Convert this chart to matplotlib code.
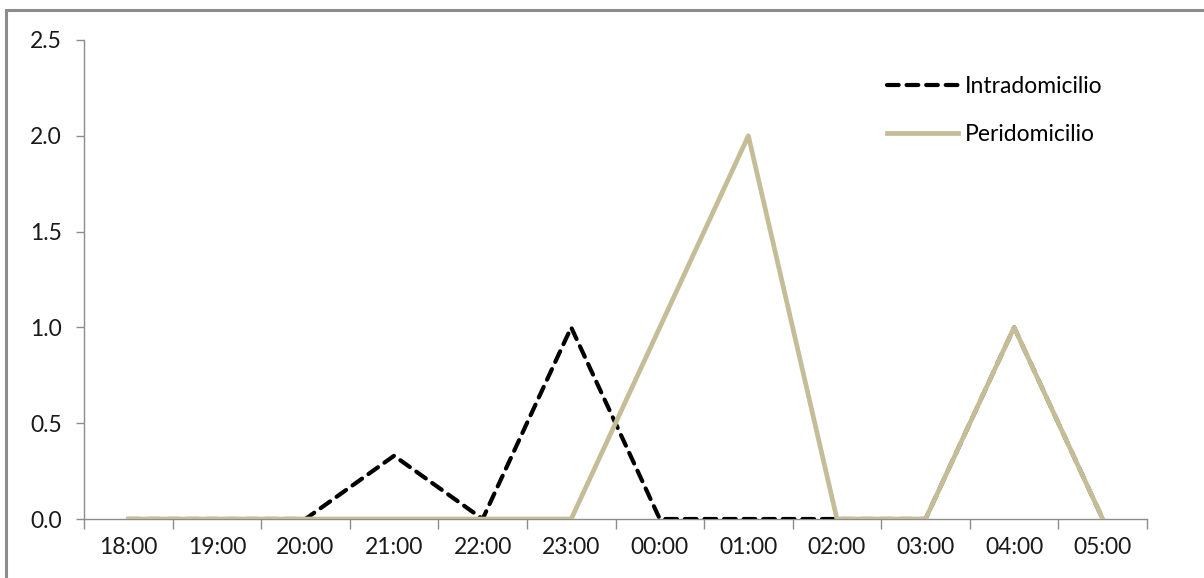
import matplotlib
matplotlib.use("Agg")
import matplotlib.pyplot as plt
from matplotlib.patches import Rectangle
from matplotlib.ticker import FixedLocator, NullFormatter

hours = ['18:00', '19:00', '20:00', '21:00', '22:00', '23:00',
         '00:00', '01:00', '02:00', '03:00', '04:00', '05:00']
intradomicilio = [0, 0, 0, 0.33, 0, 1.0, 0, 0, 0, 0, 1.0, 0]
peridomicilio = [0, 0, 0, 0, 0, 0, 1.0, 2.0, 0, 0, 1.0, 0]
yticks = [0.0, 0.5, 1.0, 1.5, 2.0, 2.5]

plt.rcParams['font.family'] = ['Lato', 'DejaVu Sans']

fig = plt.figure(figsize=(12.04, 5.78), dpi=100)
fig.patches.append(Rectangle((6/1204, -0.1), 1.2, 1 - 10/578 + 0.1,
                             transform=fig.transFigure, fill=False,
                             edgecolor='#8c8c8c', linewidth=2.2, zorder=0))

ax = fig.add_axes([84/1204, 1 - 519/578, (1147 - 84)/1204, (519 - 40)/578])
x = list(range(len(hours)))
ax.plot(x, intradomicilio, color='black', linewidth=3.0, dashes=(2.8, 1.9),
        dash_capstyle='round', label='Intradomicilio', zorder=3)
ax.plot(x, peridomicilio, color='#C4BD97', linewidth=3.4,
        label='Peridomicilio', zorder=4)

ax.set_xlim(-0.5, len(hours) - 0.5)
ax.set_ylim(0, 2.5)
ax.set_xticks(x)
ax.set_xticklabels(hours)
ax.xaxis.set_minor_locator(FixedLocator([i - 0.5 for i in range(len(hours) + 1)]))
ax.xaxis.set_minor_formatter(NullFormatter())
ax.tick_params(axis='x', which='major', length=0, pad=13, labelsize=16.5, labelcolor='#1a1a1a')
ax.tick_params(axis='x', which='minor', length=7, width=1, color='#8c8c8c', direction='out')
ax.set_yticks(yticks)
ax.set_yticklabels([f'{v:.1f}' for v in yticks])
ax.tick_params(axis='y', length=6, width=1, color='#8c8c8c', direction='out', pad=10,
               labelsize=16.5, labelcolor='#1a1a1a')
for s in ['top', 'right']:
    ax.spines[s].set_visible(False)
for s in ['left', 'bottom']:
    ax.spines[s].set_color('#8c8c8c')
    ax.spines[s].set_linewidth(1)

ax.legend(loc='upper left', bbox_to_anchor=(803/1063, 0.925), frameon=False,
          fontsize=16.5, handlelength=3.1, handletextpad=0.3, labelspacing=1.2,
          borderaxespad=0, borderpad=0)

fig.savefig('out.png', dpi=100)
